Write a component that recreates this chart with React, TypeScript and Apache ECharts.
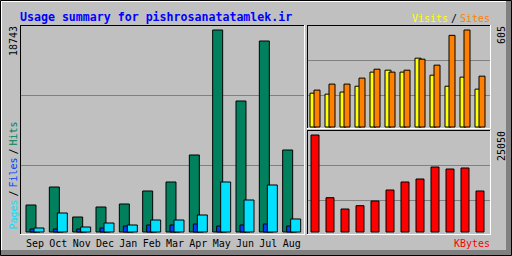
import React, { useEffect, useRef } from 'react';
import * as echarts from 'echarts';

const title = 'Usage summary for pishrosanatatamlek.ir';
const months = ['Sep', 'Oct', 'Nov', 'Dec', 'Jan', 'Feb', 'Mar', 'Apr', 'May', 'Jun', 'Jul', 'Aug'];
const hits = [2585, 4247, 1477, 2400, 2678, 3878, 4709, 7202, 18743, 12188, 17727, 7663];
const files = [369, 369, 369, 462, 646, 739, 739, 831, 646, 739, 831, 646];
const pages = [462, 1847, 554, 923, 739, 1200, 1200, 1662, 4709, 3047, 4432, 1293];
const visits = [215, 209, 222, 258, 345, 357, 345, 431, 326, 258, 314, 240];
const sites = [234, 271, 271, 308, 363, 345, 357, 425, 388, 572, 605, 320];
const kbytes = [25050, 9023, 6134, 6978, 8180, 10991, 13036, 13803, 16870, 16359, 16615, 10736];

const MONO = '"DejaVu Sans Mono", monospace';
const C = {
  hits: '#00805c', files: '#0040ff', pages: '#00e0ff',
  visits: '#ffff00', sites: '#ff8000', kbytes: '#ff0000',
  grey: '#c0c0c0', dk: '#808080', title: '#0000ff',
};

function hLine(row: number, x1: number, x2: number, color: string) {
  return { type: 'line', z: 1, shape: { x1, y1: row + 0.5, x2, y2: row + 0.5 }, style: { stroke: color, lineWidth: 1 } };
}
function vLine(col: number, y1: number, y2: number, color: string) {
  return { type: 'line', z: 1, shape: { x1: col + 0.5, y1, x2: col + 0.5, y2 }, style: { stroke: color, lineWidth: 1 } };
}
function label(text: string, x: number, y: number, color: string, opts: any = {}) {
  const rot = !!opts.up;
  return {
    type: 'text', z: 5, x, y, rotation: rot ? Math.PI / 2 : 0,
    style: {
      text, fill: color, font: (opts.bold ? 'bold ' : '') + (opts.size || 10) + 'px ' + MONO,
      align: opts.align || 'left', textAlign: opts.align || 'left',
      verticalAlign: 'middle', textVerticalAlign: 'middle',
      ...(opts.shadow ? {
        textShadowColor: C.dk, textShadowBlur: 0,
        textShadowOffsetX: rot ? -1 : 1, textShadowOffsetY: 1,
      } : {}),
    },
  };
}

export default function App() {
  const ref = useRef<HTMLDivElement>(null);
  useEffect(() => {
    const chart = echarts.init(ref.current!, null, { renderer: 'svg' });
    const maxHits = Math.max(...hits, ...files, ...pages);
    const maxVS = Math.max(...visits, ...sites);
    const maxK = Math.max(...kbytes);
    const border = { borderColor: '#000', borderWidth: 1 };
    const option: any = {
      animation: false,
      backgroundColor: C.grey,
      grid: [
        { left: 23.333, top: 29.5, width: 280, height: 203 },
        { left: 307.5, top: 29.5, width: 180, height: 98 },
        { left: 307.5, top: 134.5, width: 180, height: 98 },
      ],
      xAxis: [
        {
          type: 'category', gridIndex: 0, data: months,
          axisLine: { show: false }, axisTick: { show: false }, splitLine: { show: false },
          axisLabel: { color: '#000', fontFamily: MONO, fontSize: 10, margin: 11, verticalAlign: 'middle', interval: 0 },
        },
        { type: 'category', gridIndex: 1, data: months, show: false },
        { type: 'category', gridIndex: 2, data: months, show: false },
      ],
      yAxis: [
        { type: 'value', gridIndex: 0, min: 0, max: maxHits, show: false, splitLine: { show: false } },
        { type: 'value', gridIndex: 1, min: 0, max: maxVS, show: false, splitLine: { show: false } },
        { type: 'value', gridIndex: 2, min: 0, max: maxK, show: false, splitLine: { show: false } },
      ],
      series: [
        { name: 'Hits', type: 'bar', xAxisIndex: 0, yAxisIndex: 0, data: hits, barWidth: 11, barGap: '-63.6364%', itemStyle: { color: C.hits, ...border } },
        { name: 'Files', type: 'bar', xAxisIndex: 0, yAxisIndex: 0, data: files, barWidth: 11, barGap: '-63.6364%', itemStyle: { color: C.files, ...border } },
        { name: 'Pages', type: 'bar', xAxisIndex: 0, yAxisIndex: 0, data: pages, barWidth: 11, barGap: '-63.6364%', itemStyle: { color: C.pages, ...border } },
        { name: 'Visits', type: 'bar', xAxisIndex: 1, yAxisIndex: 1, data: visits, barWidth: 7, barGap: '-42.857%', itemStyle: { color: C.visits, ...border } },
        { name: 'Sites', type: 'bar', xAxisIndex: 1, yAxisIndex: 1, data: sites, barWidth: 7, barGap: '-42.857%', itemStyle: { color: C.sites, ...border } },
        { name: 'KBytes', type: 'bar', xAxisIndex: 2, yAxisIndex: 2, data: kbytes, barWidth: 9, itemStyle: { color: C.kbytes, ...border } },
      ],
      graphic: {
        elements: [
          // outer frame
          { type: 'rect', z: 1, shape: { x: 506, y: 1, width: 5, height: 254 }, style: { fill: C.dk } },
          { type: 'rect', z: 1, shape: { x: 1, y: 250, width: 510, height: 5 }, style: { fill: C.dk } },
          hLine(1, 1, 506, '#fff'),
          vLine(1, 1, 250, '#fff'),
          { type: 'rect', z: 1, shape: { x: 0.5, y: 0.5, width: 511, height: 255 }, style: { fill: 'none', stroke: '#000', lineWidth: 1 } },
          // main panel
          hLine(25, 20, 305, '#000'), vLine(20, 25, 235, '#000'),
          hLine(234, 20, 305, '#fff'), vLine(304, 25, 235, '#fff'),
          hLine(95, 21, 304, C.dk), hLine(165, 21, 304, C.dk),
          // top-right panel
          hLine(25, 307, 491, '#000'), vLine(307, 25, 129, '#000'),
          hLine(128, 307, 491, '#fff'), vLine(490, 25, 129, '#fff'),
          hLine(60, 308, 490, C.dk), hLine(95, 308, 490, C.dk),
          // bottom-right panel
          hLine(130, 307, 491, '#000'), vLine(307, 130, 235, '#000'),
          hLine(234, 307, 491, '#fff'), vLine(490, 130, 235, '#fff'),
          hLine(165, 308, 490, C.dk), hLine(200, 308, 490, C.dk),
          // texts
          label(title, 20, 16.5, C.title, { bold: true, size: 11.6 }),
          label('Visits', 412, 18.5, C.visits, { shadow: true }),
          label('/', 451, 18.5, '#000', { shadow: true }),
          label('Sites', 460, 18.5, C.sites, { shadow: true }),
          label('KBytes', 454, 243.5, C.kbytes, { shadow: true }),
          label(String(maxHits), 13.5, 26, '#000', { up: true, align: 'right' }),
          label(String(maxVS), 501.7, 26, '#000', { up: true, align: 'right' }),
          label(String(maxK), 501.7, 131, '#000', { up: true, align: 'right' }),
          label('Pages', 13.5, 229.5, C.pages, { up: true, shadow: true }),
          label('/', 13.5, 196.5, '#000', { up: true, shadow: true }),
          label('Files', 13.5, 187.5, C.files, { up: true, shadow: true }),
          label('/', 13.5, 154.5, '#000', { up: true, shadow: true }),
          label('Hits', 13.5, 145.5, C.hits, { up: true, shadow: true }),
        ],
      },
    };
    chart.setOption(option);
    return () => chart.dispose();
  }, []);
  return <div ref={ref} style={{ position: 'fixed', left: 0, top: 0, width: 512, height: 256 }} />;
}
